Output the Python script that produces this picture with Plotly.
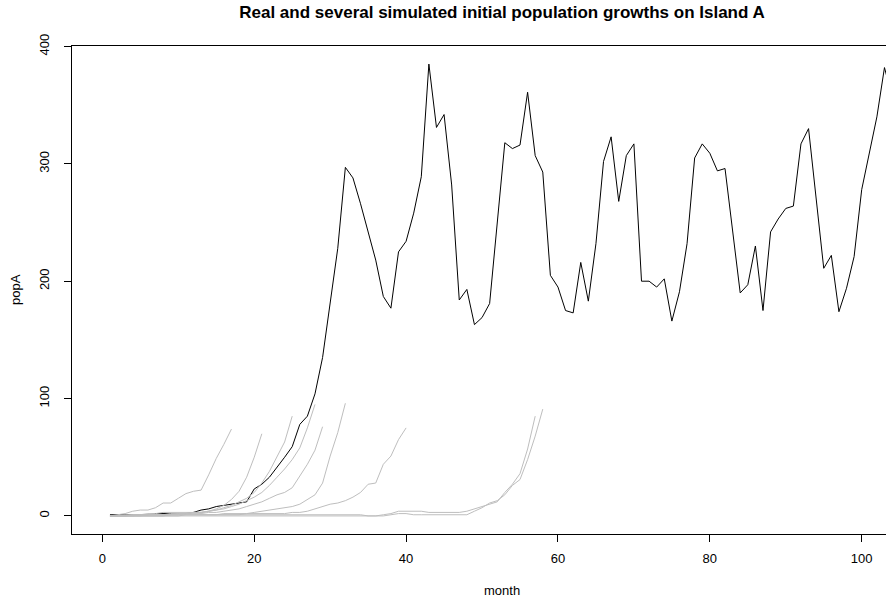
import plotly.graph_objects as go

# ---- data ----
real_popA = [1, 1, 1, 1, 1, 1, 2, 2, 2, 2, 2, 3, 5, 6, 8, 9, 10, 11, 12, 23,
             27, 33, 41, 50, 59, 78, 85, 104, 135, 181, 228, 297, 288, 266, 242, 218, 187, 177, 225, 234,
             258, 289, 385, 331, 342, 282, 184, 193, 163, 169, 181, 252, 318, 313, 316, 361, 307, 293, 205, 195,
             175, 173, 216, 183, 232, 302, 323, 268, 307, 317, 200, 200, 195, 202, 166, 191, 232, 305, 317, 309,
             294, 296, 242, 190, 197, 230, 175, 242, 253, 262, 264, 317, 330, 269, 211, 222, 174, 194, 221, 278,
             310, 340, 382, 357]

sim_1 = [0, 1, 2, 4, 5, 5, 7, 11, 11, 15, 19, 21, 22, 35, 49, 61, 74]
sim_2 = [0, 0, 1, 1, 1, 2, 2, 3, 3, 3, 3, 3, 3, 4, 6, 9, 14, 21, 33, 50, 70]
sim_3 = [0, 0, 0, 1, 1, 1, 1, 1, 2, 2, 2, 3, 3, 4, 5, 7, 9, 12, 15, 20, 28, 38, 51, 63, 85]
sim_4 = [0, 0, 0, 0, 1, 1, 1, 1, 1, 2, 2, 3, 3, 4, 5, 6, 8, 10, 13, 16, 20, 26, 33, 40, 48, 58, 75, 95]
sim_5 = [0, 0, 0, 0, 0, 1, 1, 1, 1, 1, 2, 2, 2, 3, 3, 4, 5, 6, 8, 10, 12, 15, 18, 20, 24, 34, 44, 56, 76]
sim_6 = [0, 0, 0, 0, 0, 0, 0, 0, 1, 1, 1, 1, 1, 1, 1, 2, 2, 2, 2, 3, 4, 5, 6, 7, 8, 10, 14, 18, 28, 51,
         71, 96]
sim_7 = [0, 0, 0, 0, 0, 0, 0, 0, 0, 0, 1, 1, 1, 1, 1, 1, 1, 1, 2, 2, 2, 2, 2, 2, 3, 3, 4, 6, 8, 10,
         11, 13, 16, 20, 27, 28, 44, 51, 65, 75]
sim_8 = [0, 0, 0, 1, 1, 1, 1, 1, 1, 1, 1, 1, 1, 1, 1, 1, 1, 1, 1, 1, 1, 1, 1, 1, 1, 1, 1, 1, 1, 1,
         1, 1, 1, 1, 0, 0, 1, 2, 4, 4, 4, 4, 3, 3, 3, 3, 3, 4, 6, 8, 10, 12, 20, 27, 36, 57, 85]
sim_9 = [0, 0, 0, 0, 0, 0, 0, 0, 0, 0, 0, 0, 0, 0, 0, 0, 0, 0, 0, 0, 0, 0, 0, 0, 0, 0, 0, 0, 0, 0,
         0, 0, 0, 0, 0, 0, 0, 1, 2, 2, 1, 1, 1, 1, 1, 1, 1, 1, 4, 7, 11, 13, 18, 26, 31, 48, 68, 91]

simulations = [sim_1, sim_2, sim_3, sim_4, sim_5, sim_6, sim_7, sim_8, sim_9]

x_ticks = [0, 20, 40, 60, 80, 100]
y_ticks = [0, 100, 200, 300, 400]

title_text = "Real and several simulated initial population growths on Island A"
x_title = "month"
y_title = "popA"

FONT = "Liberation Sans, Arial, Helvetica, sans-serif"

fig = go.Figure()
# real series first, simulated runs drawn over it (as in the original)
fig.add_trace(go.Scatter(x=list(range(1, len(real_popA) + 1)), y=real_popA, mode="lines",
                         line=dict(color="black", width=1), showlegend=False))
for sim in simulations:
    fig.add_trace(go.Scatter(x=list(range(1, len(sim) + 1)), y=sim, mode="lines",
                             line=dict(color="#bebebe", width=1), hoverinfo="skip",
                             showlegend=False))

W, H = 886, 606
L, R, T, B = 72, 0, 46, 72

fig.update_layout(
    width=W, height=H,
    margin=dict(l=L, r=R, t=T, b=B, pad=0),
    paper_bgcolor="white", plot_bgcolor="white",
    font=dict(family=FONT, size=13, color="black"),
    title=dict(text=title_text, font=dict(family=FONT, size=17, color="black", weight="bold"),
               xref="container", yref="container", x=502 / W, xanchor="center",
               y=1 - 12 / H, yanchor="middle"),
    xaxis=dict(range=[-4.0, 103.2], tickvals=x_ticks, ticktext=[str(v) for v in x_ticks],
               ticks="outside", ticklen=7, tickwidth=1, tickcolor="black",
               showline=True, linecolor="black", linewidth=1, mirror=True,
               showgrid=False, zeroline=False, tickfont=dict(size=13),
               ticklabelstandoff=5),
    yaxis=dict(range=[-15.4, 400.4], tickvals=y_ticks, ticktext=[str(v) for v in y_ticks],
               ticks="outside", ticklen=7, tickwidth=1, tickcolor="black",
               showline=True, linecolor="black", linewidth=1, mirror=False,
               showgrid=False, zeroline=False, tickangle=-90, tickfont=dict(size=13),
               ticklabelstandoff=10),
    annotations=[
        dict(text=x_title, xref="paper", yref="paper", x=(502 - L) / (W - L - R), y=-(590 - (H - B)) / (H - T - B),
             xanchor="center", yanchor="middle", showarrow=False, font=dict(size=13)),
        dict(text=y_title, xref="paper", yref="paper", x=-(L - 15) / (W - L - R), y=0.5,
             xanchor="center", yanchor="middle", showarrow=False, textangle=-90, font=dict(size=13)),
    ],
)

fig.write_html("out.html")
